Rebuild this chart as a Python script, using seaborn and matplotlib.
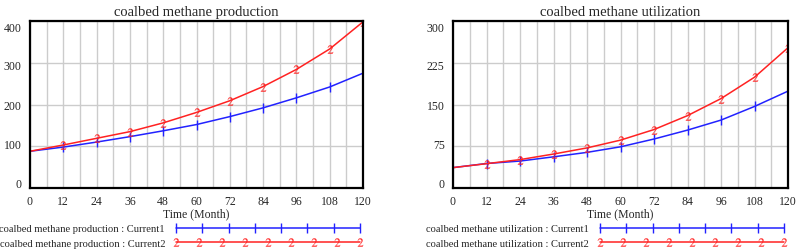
import matplotlib
matplotlib.use("Agg")
import matplotlib.pyplot as plt
import matplotlib.transforms as mtransforms
from matplotlib.legend_handler import HandlerLine2D
import pandas as pd
import seaborn as sns

months = [0, 12, 24, 36, 48, 60, 72, 84, 96, 108, 120]

production_current1 = [88, 98, 110, 123, 137, 152, 171, 192, 216, 242, 275]
production_current2 = [88, 103, 119, 135, 156, 181, 209, 243, 284, 333, 398]

utilization_current1 = [36.6, 44, 48.4, 56, 64, 74, 88, 104, 122, 146.5, 174]
utilization_current2 = [36.6, 43.7, 51, 61, 72, 86, 105, 130, 160.6, 199, 252]

BLUE = "#2222ff"
RED = "#ff2222"
W, H = 796, 251


def long_frame(cur1, cur2):
    return pd.DataFrame({
        "month": months * 2,
        "value": cur1 + cur2,
        "run": ["Current1"] * len(months) + ["Current2"] * len(months),
    })


def draw_panel(fig, rect, df, name, ymax, ystep, leg_right, leg_top):
    ax = fig.add_axes(rect)
    sns.lineplot(
        data=df, x="month", y="value", hue="run", style="run",
        palette={"Current1": BLUE, "Current2": RED},
        markers={"Current1": "$1$", "Current2": "$2$"},
        dashes=False, markersize=6, linewidth=1.1, legend=False, ax=ax,
    )
    for line in ax.lines:
        c = line.get_color()
        line.set_markeredgecolor(c)
        line.set_markerfacecolor(c)
        line.set_markeredgewidth(0.1)
        line.set_markevery(slice(1, None))
    # vensim's "1" marker reads as a plain vertical tick
    ax.lines[0].set_marker("|")
    ax.lines[0].set_markersize(7)
    ax.lines[0].set_markeredgewidth(1.0)

    ax.set_xlim(0, 120)
    ax.set_ylim(0, ymax)
    ax.set_xticks(range(0, 121, 12))
    ax.set_xticks(range(6, 120, 12), minor=True)
    yt = [ystep * i for i in range(5)]
    ax.set_yticks(yt)
    ax.set_yticklabels([f"{v:g}" for v in yt])
    ax.grid(True, which="both", axis="x", color="#cccccc", lw=1)
    ax.grid(True, which="major", axis="y", color="#cccccc", lw=1)
    ax.tick_params(which="both", length=0, labelsize=8.5, pad=5)
    ax.tick_params(axis="y", pad=6)
    for sp in ax.spines.values():
        sp.set_visible(True)
        sp.set_color("black")
        sp.set_linewidth(1.6)
    ax.set_axisbelow(True)

    # vensim squeezes the y labels inward
    offsets = [5, 3, 0, -2, -6]
    for lab, dy in zip(ax.get_yticklabels(), offsets):
        lab.set_transform(lab.get_transform() + mtransforms.ScaledTranslation(0, dy / 100, fig.dpi_scale_trans))

    ax.set_title(name, fontsize=10.5, pad=4)
    ax.set_xlabel("Time (Month)", fontsize=8.5, labelpad=0)
    ax.set_ylabel("")

    h1, h2 = ax.lines[0], ax.lines[1]
    ax.legend(
        [h1, h2], [f"{name} : Current1", f"{name} : Current2"],
        loc="upper right", bbox_to_anchor=(leg_right / W, 1 - leg_top / H),
        bbox_transform=fig.transFigure, markerfirst=False, frameon=False,
        fontsize=7.6, handlelength=18, handletextpad=0.75, borderpad=0,
        borderaxespad=0, labelspacing=0.45,
        handler_map={h1: HandlerLine2D(numpoints=8), h2: HandlerLine2D(numpoints=9)},
    )
    return ax


sns.set_style("white")
plt.rcParams["font.family"] = ["Liberation Serif", "DejaVu Serif"]
plt.rcParams["mathtext.fontset"] = "stix"

fig = plt.figure(figsize=(W / 100, H / 100), dpi=100)

draw_panel(fig, [30 / W, 1 - 189 / H, 333 / W, 167 / H],
           long_frame(production_current1, production_current2),
           "coalbed methane production", 400, 100, 363, 225)
draw_panel(fig, [453 / W, 1 - 189 / H, 335 / W, 167 / H],
           long_frame(utilization_current1, utilization_current2),
           "coalbed methane utilization", 300, 75, 787, 225)

fig.savefig("out.png", dpi=100)
